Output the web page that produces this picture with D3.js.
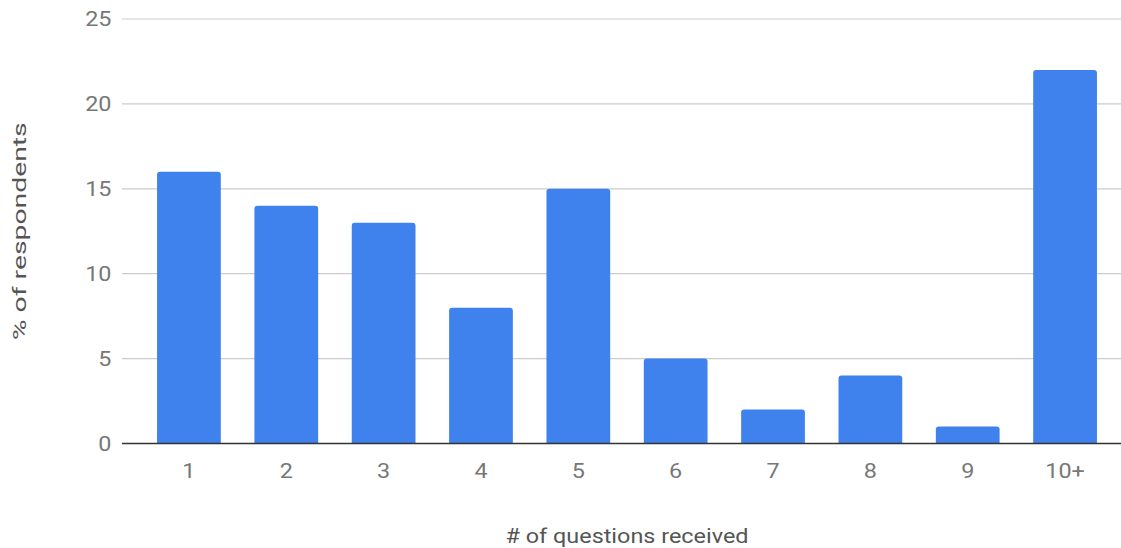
<!DOCTYPE html>
<html>
<head>
<meta charset="utf-8">
<script src="https://cdn.jsdelivr.net/npm/d3@7"></script>
<style>
  html, body { margin: 0; padding: 0; background: #fff; }
  svg { display: block; font-family: Roboto, "Noto Sans", sans-serif; }
</style>
</head>
<body>
<svg id="chart" width="1121" height="548"></svg>
<script>
// Share of respondents by number of questions received
const categories = ["1", "2", "3", "4", "5", "6", "7", "8", "9", "10+"];
const percentValues = [16, 14, 13, 8, 15, 5, 2, 4, 1, 22];
const yTickValues = [0, 5, 10, 15, 20, 25];
const xAxisTitle = "# of questions received";
const yAxisTitle = "% of respondents";

const svg = d3.select("#chart");

const plot = { left: 140.3, right: 1113.7, top: 19, bottom: 443.5 };
const gridLeft = 122, gridRight = 1121;
const labelStretch = 1.17;   // labels are drawn slightly wide

const x = d3.scaleBand()
  .domain(categories)
  .range([plot.left, plot.right])
  .paddingInner(0.345)
  .paddingOuter(0.172);

const y = d3.scaleLinear()
  .domain([0, 25])
  .range([plot.bottom, plot.top]);

// horizontal gridlines
svg.append("g")
  .selectAll("line")
  .data(yTickValues.filter(v => v !== 0))
  .join("line")
  .attr("x1", gridLeft).attr("x2", gridRight)
  .attr("y1", d => y(d)).attr("y2", d => y(d))
  .attr("stroke", "#cccccc")
  .attr("stroke-width", 1.2);

// y tick labels
svg.append("g")
  .selectAll("g")
  .data(yTickValues)
  .join("g")
  .attr("transform", d => `translate(111.5,${y(d)}) scale(${labelStretch},1)`)
  .append("text")
  .attr("dy", "0.36em")
  .attr("text-anchor", "end")
  .attr("fill", "#777")
  .attr("font-size", 20)
  .text(d => d);

// bars with rounded top corners
const r = 3;
function barPath(d, i) {
  const x0 = x(categories[i]), w = x.bandwidth();
  const y0 = y(d), y1 = y(0);
  const rr = Math.min(r, (y1 - y0));
  return `M${x0},${y1}V${y0 + rr}Q${x0},${y0} ${x0 + rr},${y0}` +
         `H${x0 + w - rr}Q${x0 + w},${y0} ${x0 + w},${y0 + rr}V${y1}Z`;
}
svg.append("g")
  .selectAll("path")
  .data(percentValues)
  .join("path")
  .attr("d", barPath)
  .attr("fill", "#3f82ee");

// baseline
svg.append("line")
  .attr("x1", gridLeft).attr("x2", gridRight)
  .attr("y1", y(0)).attr("y2", y(0))
  .attr("stroke", "#333")
  .attr("stroke-width", 1.6);

// x tick labels
svg.append("g")
  .selectAll("g")
  .data(categories)
  .join("g")
  .attr("transform", d => `translate(${x(d) + x.bandwidth() / 2},478) scale(${labelStretch},1)`)
  .append("text")
  .attr("text-anchor", "middle")
  .attr("fill", "#777")
  .attr("font-size", 20)
  .text(d => d);

// axis titles
svg.append("text")
  .attr("x", (plot.left + plot.right) / 2)
  .attr("y", 543)
  .attr("text-anchor", "middle")
  .attr("fill", "#555")
  .attr("font-size", 20)
  .attr("textLength", 243)
  .attr("lengthAdjust", "spacingAndGlyphs")
  .text(xAxisTitle);

svg.append("text")
  .attr("transform", `translate(26,${(plot.top + plot.bottom) / 2}) rotate(-90)`)
  .attr("text-anchor", "middle")
  .attr("fill", "#555")
  .attr("font-size", 19)
  .attr("textLength", 218)
  .attr("lengthAdjust", "spacingAndGlyphs")
  .text(yAxisTitle);
</script>
</body>
</html>
